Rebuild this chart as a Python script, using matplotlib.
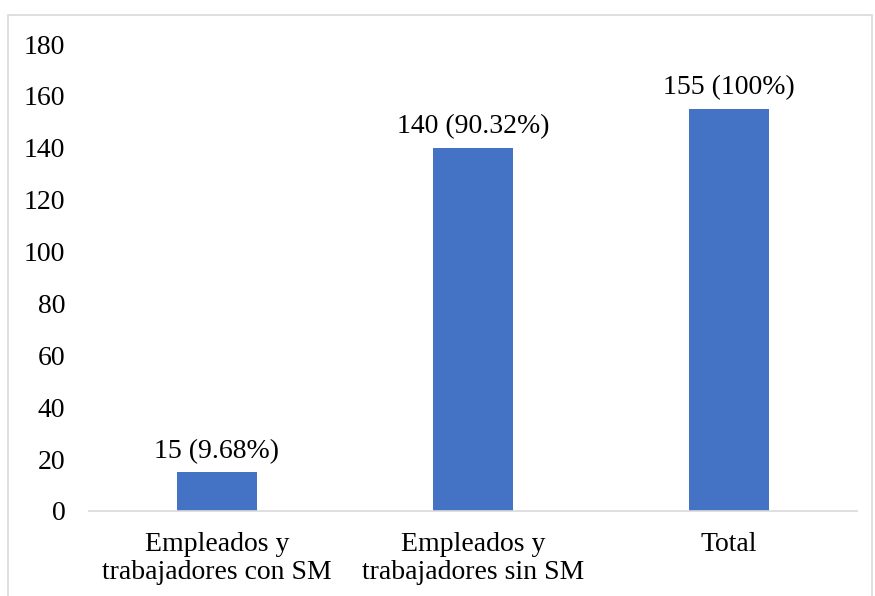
import matplotlib
matplotlib.use("Agg")
import matplotlib.pyplot as plt
from matplotlib.patches import Rectangle

categories = ["Empleados y\ntrabajadores con SM", "Empleados y\ntrabajadores sin SM", "Total"]
values = [15, 140, 155]
bar_labels = ["15 (9.68%)", "140 (90.32%)", "155 (100%)"]
yticks = [0, 20, 40, 60, 80, 100, 120, 140, 160, 180]

BAR_COLOR = "#4472C4"
FS = 20

plt.rcParams["font.family"] = ["Liberation Serif", "DejaVu Serif"]

W, H = 875, 596
fig = plt.figure(figsize=(W / 100, H / 100), dpi=100)
# axes placed in pixel terms: x 89..857, y(0)=511, y(180)=44
ax = fig.add_axes([89 / W, 1 - 511 / H, (857 - 89) / W, (511 - 44) / H])

x = list(range(len(categories)))
ax.bar(x, values, width=0.31, color=BAR_COLOR)
for xi, v, lab in zip(x, values, bar_labels):
    ax.annotate(lab, (xi, v), xytext=(0, 6), textcoords="offset points",
                ha="center", va="bottom", fontsize=FS, color="#000000")

ax.set_xlim(-0.5, 2.5)
ax.set_ylim(0, 180)
ax.set_yticks(yticks)
ax.set_yticklabels([str(t) for t in yticks], fontsize=FS)
ax.set_xticks(x)
ax.set_xticklabels(categories, fontsize=FS, linespacing=1.15)
ax.tick_params(axis="both", length=0, colors="#000000")
ax.tick_params(axis="y", pad=17)
ax.tick_params(axis="x", pad=15)

for s in ("top", "right", "left"):
    ax.spines[s].set_visible(False)
ax.spines["bottom"].set_color("#D9D9D9")
ax.spines["bottom"].set_linewidth(1.2)

# outer chart frame
fig.patches.append(Rectangle((8 / W, -0.01), (872 - 8) / W, 1 - 15 / H + 0.01,
                             transform=fig.transFigure, fill=False,
                             edgecolor="#D9D9D9", linewidth=1.2))

fig.savefig("out.png", dpi=100)
